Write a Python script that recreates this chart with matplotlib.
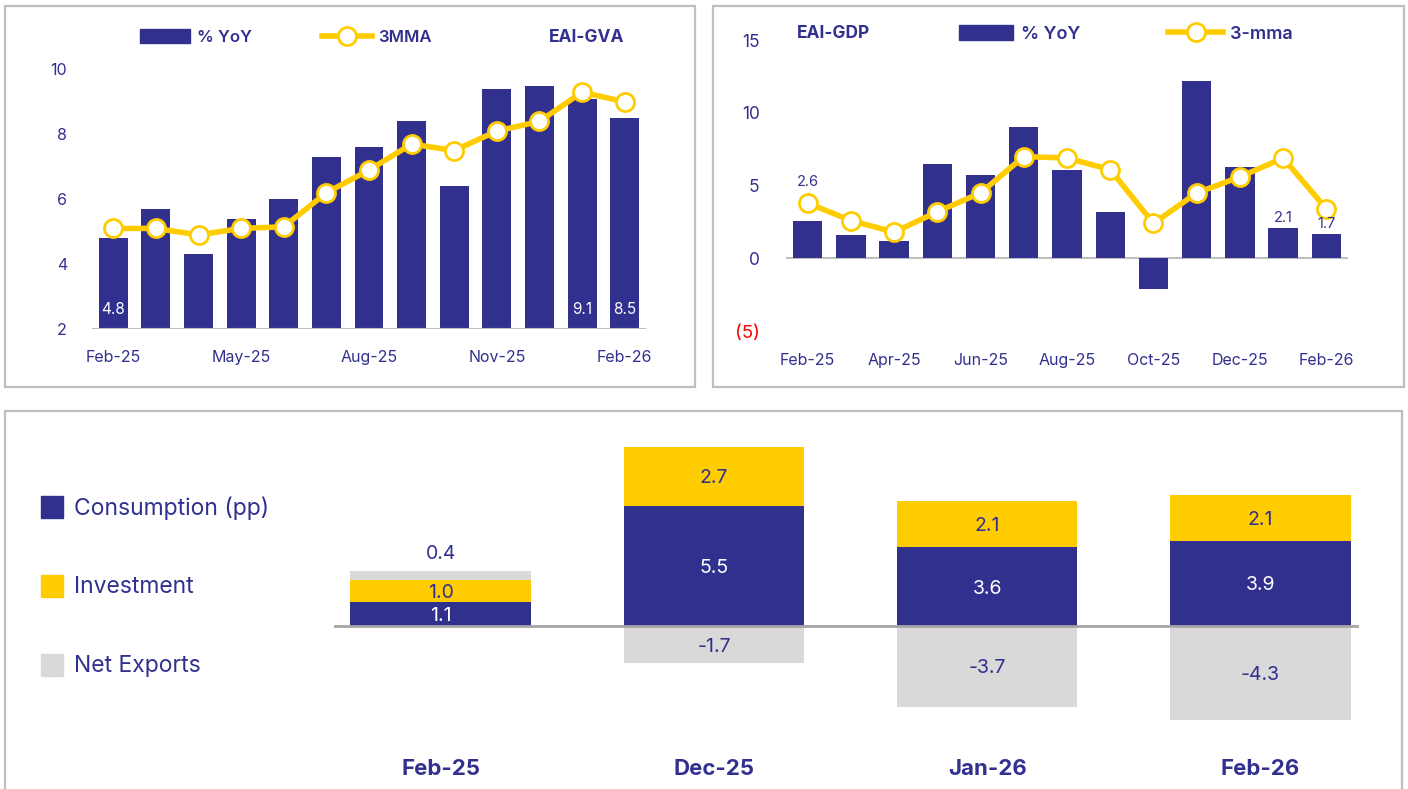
import matplotlib.pyplot as plt
import matplotlib.patches as mpatches
from matplotlib.lines import Line2D

plt.rcParams['font.family'] = ['Inter', 'DejaVu Sans']

NAVY = '#31308F'
YELLOW = '#FFCC00'
GREY = '#D9D9D9'
BORDER = '#BFBFBF'
AXIS = '#BFBFBF'

# EAI-GVA, monthly
gva_months = ['Feb-25', 'Mar-25', 'Apr-25', 'May-25', 'Jun-25', 'Jul-25', 'Aug-25',
              'Sep-25', 'Oct-25', 'Nov-25', 'Dec-25', 'Jan-26', 'Feb-26']
gva_yoy = [4.8, 5.7, 4.3, 5.4, 6.0, 7.3, 7.6, 8.4, 6.4, 9.4, 9.5, 9.1, 8.5]
gva_3mma = [5.1, 5.1, 4.9, 5.1, 5.15, 6.2, 6.9, 7.7, 7.5, 8.1, 8.4, 9.3, 9.0]

# EAI-GDP, monthly
gdp_months = gva_months
gdp_yoy = [2.6, 1.6, 1.2, 6.5, 5.7, 9.0, 6.1, 3.2, -2.1, 12.2, 6.3, 2.1, 1.7]
gdp_3mma = [3.8, 2.6, 1.8, 3.2, 4.5, 7.0, 6.9, 6.1, 2.4, 4.5, 5.6, 6.9, 3.4]

# contributions to growth (pp)
contrib_periods = ['Feb-25', 'Dec-25', 'Jan-26', 'Feb-26']
consumption = [1.1, 5.5, 3.6, 3.9]
investment = [1.0, 2.7, 2.1, 2.1]
net_exports = [0.4, -1.7, -3.7, -4.3]

W, H = 1408, 789
fig = plt.figure(figsize=(W / 100, H / 100), dpi=100)


def px_axes(x0, y0, x1, y1):
    # axes from pixel box (top-left origin)
    return fig.add_axes([x0 / W, 1 - y1 / H, (x1 - x0) / W, (y1 - y0) / H])


def border(x0, y0, x1, y1):
    fig.patches.append(mpatches.Rectangle((x0 / W, 1 - y1 / H), (x1 - x0) / W, (y1 - y0) / H,
                                          transform=fig.transFigure, fill=False,
                                          edgecolor=BORDER, lw=1.6))


border(5, 6, 695, 387)
border(713, 6, 1404, 387)
border(5, 411, 1402, 800)


def style(ax):
    for s in ax.spines.values():
        s.set_visible(False)
    ax.tick_params(length=0, colors=NAVY, labelsize=11)


def line_handle():
    return Line2D([], [], color=YELLOW, lw=4, marker='o', markersize=13,
                  markerfacecolor='white', markeredgecolor=YELLOW, markeredgewidth=2)


# ---- EAI-GVA ----
ax1 = px_axes(92, 37, 646, 329)
x = range(len(gva_months))
ax1.bar(x, gva_yoy, width=0.68, color=NAVY, zorder=2)
ax1.plot(x, gva_3mma, color=YELLOW, lw=4, marker='o', markersize=13,
         markerfacecolor='white', markeredgecolor=YELLOW, markeredgewidth=2, zorder=3)
ax1.set_xlim(-0.5, 12.5)
ax1.set_ylim(2, 11)
ax1.set_yticks([2, 4, 6, 8, 10])
ax1.set_xticks(list(range(0, 13, 3)))
ax1.set_xticklabels(gva_months[::3])
style(ax1)
ax1.tick_params(axis='y', pad=18, labelsize=11.5)
ax1.tick_params(axis='x', pad=15, labelsize=11.5)
ax1.axhline(2, color=AXIS, lw=1.5, zorder=4)
for i in (0, 11, 12):
    ax1.text(i, 2.6, f'{gva_yoy[i]:.1f}', color='white', ha='center', va='center',
             fontsize=11, zorder=5)
leg = ax1.legend([mpatches.Patch(color=NAVY), line_handle()], ['% YoY', '3MMA'],
                 loc='center left', bbox_to_anchor=(33 / 554, 1.0), ncol=2, frameon=False,
                 handlelength=3.0, handleheight=0.9, columnspacing=4.2, handletextpad=0.4,
                 prop={'size': 12, 'weight': 'semibold'})
for t in leg.get_texts():
    t.set_color(NAVY)
fig.text(587 / W, 1 - 38 / H, 'EAI-GVA', color=NAVY, fontsize=12.5, fontweight='bold',
         ha='center', va='center')

# ---- EAI-GDP ----
ax2 = px_axes(786, 33, 1348, 331)
ax2.bar(x, gdp_yoy, width=0.68, color=NAVY, zorder=2)
ax2.plot(x, gdp_3mma, color=YELLOW, lw=4, marker='o', markersize=13,
         markerfacecolor='white', markeredgecolor=YELLOW, markeredgewidth=2, zorder=3)
ax2.set_xlim(-0.5, 12.5)
ax2.set_ylim(-5, 15.5)
ax2.set_yticks([-5, 0, 5, 10, 15])
ax2.set_yticklabels(['(5)', '0', '5', '10', '15'])
ax2.set_xticks(list(range(0, 13, 2)))
ax2.set_xticklabels(gdp_months[::2])
style(ax2)
ax2.tick_params(axis='y', pad=19, labelsize=12.5)
ax2.tick_params(axis='x', pad=16, labelsize=11.5)
ax2.get_yticklabels()[0].set_color('red')
ax2.get_yticklabels()[0].set_fontsize(13.5)
ax2.axhline(0, color=AXIS, lw=1.5, zorder=1)
ax2.text(0, gdp_3mma[0] + 1.45, f'{gdp_yoy[0]:.1f}', color=NAVY, ha='center', va='center',
         fontsize=10.5)
for i in (11, 12):
    ax2.text(i, gdp_yoy[i] + 0.65, f'{gdp_yoy[i]:.1f}', color=NAVY, ha='center', va='center',
             fontsize=10.5, zorder=5)
leg2 = ax2.legend([mpatches.Patch(color=NAVY), line_handle()], ['% YoY', '3-mma'],
                  loc='center left', bbox_to_anchor=(157 / 562, 0.997), ncol=2, frameon=False,
                  handlelength=3.0, handleheight=0.9, columnspacing=4.9, handletextpad=0.4,
                  prop={'size': 13, 'weight': 'semibold'})
for t in leg2.get_texts():
    t.set_color(NAVY)
fig.text(833 / W, 1 - 34 / H, 'EAI-GDP', color=NAVY, fontsize=12.5, fontweight='bold',
         ha='center', va='center')

# ---- contributions ----
ax3 = px_axes(334, 438, 1359, 783)
xc = range(len(contrib_periods))
bw = 0.66
ax3.bar(xc, consumption, width=bw, color=NAVY, zorder=2)
ax3.bar(xc, investment, width=bw, bottom=consumption, color=YELLOW, zorder=2)
ne_bottom = [c + v if n > 0 else 0 for c, v, n in zip(consumption, investment, net_exports)]
ax3.bar(xc, net_exports, width=bw, bottom=ne_bottom, color=GREY, zorder=2)
ax3.set_xlim(-0.39, 3.36)
ax3.set_ylim(-7.2, 8.6)
ax3.axis('off')
ax3.axhline(0, color='#A6A6A6', lw=2, zorder=3)
for i in xc:
    c, v, n = consumption[i], investment[i], net_exports[i]
    ax3.text(i, c / 2 - 0.1, f'{c:.1f}', color='white', ha='center', va='center', fontsize=14, zorder=4)
    ax3.text(i, c + v / 2 - 0.1, f'{v:.1f}', color=NAVY, ha='center', va='center', fontsize=14, zorder=4)
    if n > 0:
        ax3.text(i, c + v + n + 0.8, f'{n:.1f}', color=NAVY, ha='center', va='center',
                 fontsize=14, zorder=4)
    else:
        ax3.text(i, n / 2 - 0.1, f'{n:.1f}', color=NAVY, ha='center', va='center',
                 fontsize=14, zorder=4)
    ax3.text(i, -6.55, contrib_periods[i], color=NAVY, ha='center', va='center',
             fontsize=16, fontweight='bold')

for label, col, yy in [('Consumption (pp)', NAVY, 507), ('Investment', YELLOW, 586),
                       ('Net Exports', GREY, 665)]:
    fig.patches.append(mpatches.Rectangle((41 / W, 1 - (yy + 11) / H), 22 / W, 22 / H,
                                          transform=fig.transFigure, color=col))
    fig.text(74 / W, 1 - (yy + 1) / H, label, color=NAVY, fontsize=16.5, ha='left', va='center')

fig.savefig('out.png', dpi=100)
